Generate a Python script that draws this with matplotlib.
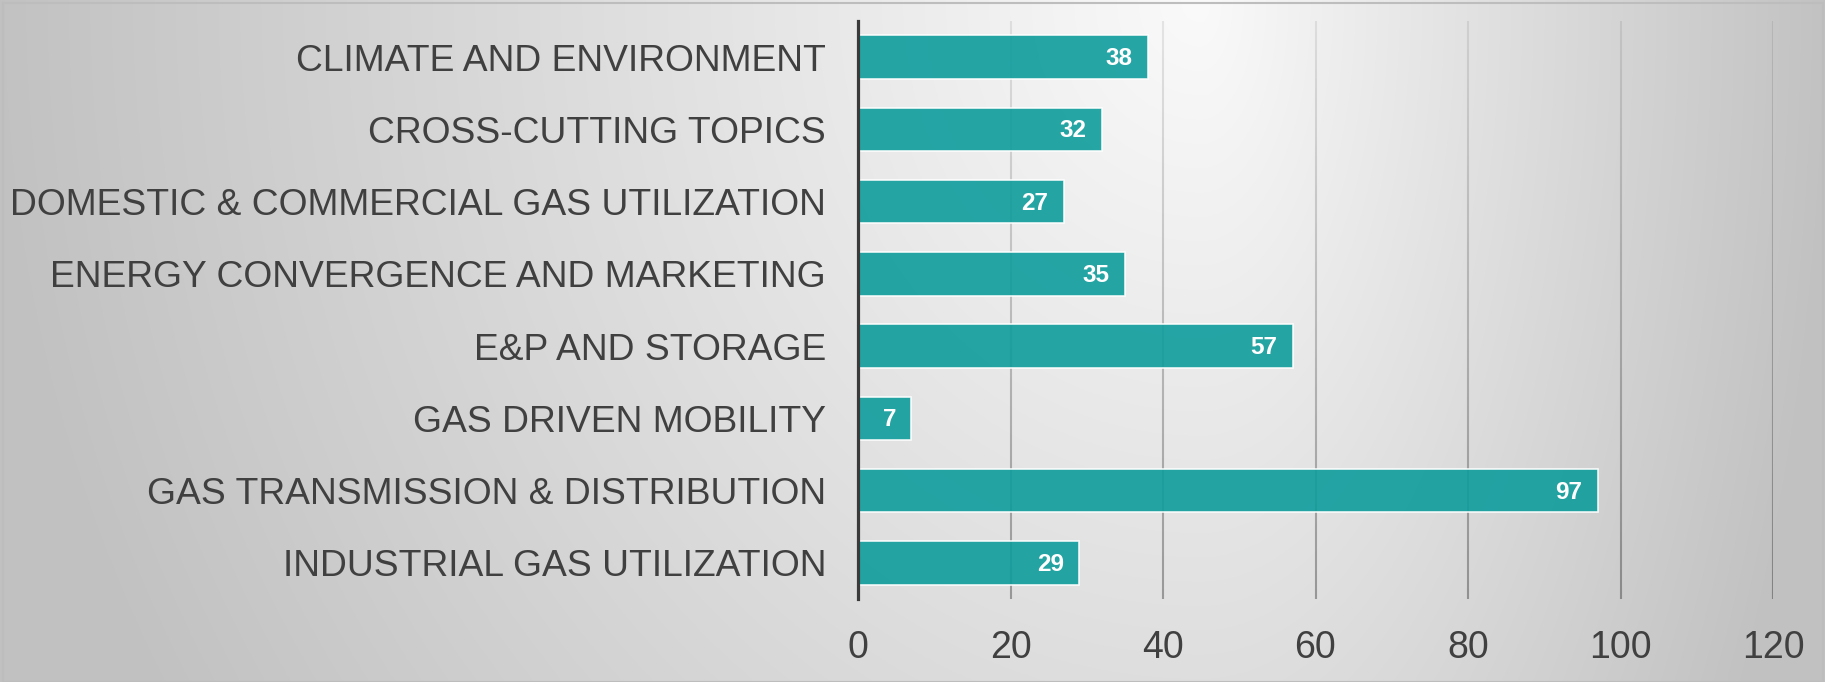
import numpy as np
import matplotlib
matplotlib.use("Agg")
import matplotlib.pyplot as plt
from matplotlib.collections import LineCollection
from matplotlib.patches import Rectangle

plt.rcParams['font.family'] = ['Liberation Sans', 'DejaVu Sans']

categories = [
    "CLIMATE AND ENVIRONMENT",
    "CROSS-CUTTING TOPICS",
    "DOMESTIC & COMMERCIAL GAS UTILIZATION",
    "ENERGY CONVERGENCE AND MARKETING",
    "E&P AND STORAGE",
    "GAS DRIVEN MOBILITY",
    "GAS TRANSMISSION & DISTRIBUTION",
    "INDUSTRIAL GAS UTILIZATION",
]
values = [38, 32, 27, 35, 57, 7, 97, 29]
xticks = [0, 20, 40, 60, 80, 100, 120]

W, H = 1825, 682
fig = plt.figure(figsize=(W / 100, H / 100), dpi=100)
fig.patch.set_facecolor('white')

# background gradient (light spot near the top, right of centre)
bg = fig.add_axes([0, 0, 1, 1], zorder=-10)
xx, yy = np.meshgrid(np.arange(W), np.arange(H))
cx = 1200
u = np.where(xx < cx, (cx - xx) / cx, (xx - cx) / (W - cx))
v = yy / H
r = np.clip(np.sqrt(u ** 2 + (0.5 * v) ** 2), 0, 1)
shade = 0.98 - 0.22 * r
bg.imshow(np.dstack([shade] * 3), extent=[0, W, H, 0], aspect='auto')
bg.add_patch(Rectangle((3, 3), W - 5, H - 3, fill=False, ec='#bdbdbd', lw=1.5))
bg.set_xlim(0, W)
bg.set_ylim(H, 0)
bg.axis('off')

ax = fig.add_axes([858 / W, 1 - 599 / H, (1773 - 858) / W, (599 - 21) / H])
ax.set_facecolor('none')

y = np.arange(len(categories))
ax.barh(y, values, height=0.6, color='#0e9d9c', alpha=0.9,
        edgecolor=(1, 1, 1, 0.55), linewidth=1.2, zorder=3)

# vertical gridlines, fading towards the top
segs, cols = [], []
ys = np.linspace(-0.5, len(categories) - 0.5, 61)
for t in xticks[1:]:
    for k in range(len(ys) - 1):
        segs.append([(t, ys[k]), (t, ys[k + 1])])
        a = 0.08 + 0.24 * (k / (len(ys) - 2))
        cols.append((0, 0, 0, a))
ax.add_collection(LineCollection(segs, colors=cols, linewidths=1.5, zorder=1))

for i, val in enumerate(values):
    ax.annotate(str(val), xy=(val, i), xytext=(-11, -1), textcoords='offset points',
                ha='right', va='center', color='white', fontsize=17.5,
                fontweight='bold', zorder=5)

ax.set_xlim(0, 120)
ax.set_ylim(len(categories) - 0.5, -0.5)
ax.set_xticks(xticks)
ax.set_yticks(y)
ax.set_yticklabels(categories)
ax.tick_params(axis='both', length=0, colors='#404040')
ax.tick_params(axis='x', pad=22, labelsize=27)
ax.tick_params(axis='y', pad=23, labelsize=26.85)
for s in ['top', 'right', 'bottom']:
    ax.spines[s].set_visible(False)
ax.spines['left'].set_color('#3a3a3a')
ax.spines['left'].set_linewidth(2.3)
ax.spines['left'].set_zorder(6)

fig.savefig('out.png', dpi=100)
